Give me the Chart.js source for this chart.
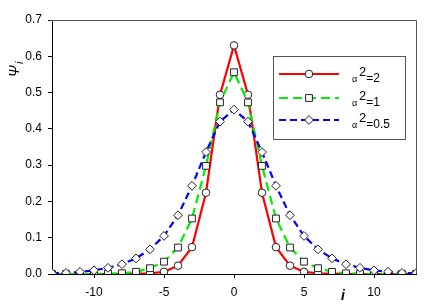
<!DOCTYPE html>
<html>
<head>
<meta charset="utf-8">
<script src="https://cdn.jsdelivr.net/npm/chart.js@4/dist/chart.umd.min.js"></script>
<style>
html,body{margin:0;padding:0;background:#fff;}
#wrap{width:436px;height:307px;position:relative;}
</style>
</head>
<body>
<div id="wrap"><canvas id="c" width="436" height="307"></canvas></div>
<script>
const sites = [-13,-12,-11,-10,-9,-8,-7,-6,-5,-4,-3,-2,-1,0,1,2,3,4,5,6,7,8,9,10,11,12,13];
const psiAlpha2 = [0,0,0,0,0,0,0.001,0.002,0.006,0.023,0.074,0.224,0.494,0.63,0.494,0.224,0.074,0.023,0.006,0.002,0.001,0,0,0,0,0,0];
const psiAlpha1 = [0,0,0,0,0.001,0.002,0.006,0.016,0.034,0.073,0.153,0.298,0.473,0.556,0.473,0.298,0.153,0.073,0.034,0.016,0.006,0.002,0.001,0,0,0,0];
const psiAlpha05 = [0.002,0.003,0.006,0.010,0.017,0.027,0.043,0.068,0.105,0.162,0.243,0.336,0.42,0.453,0.42,0.336,0.243,0.162,0.105,0.068,0.043,0.027,0.017,0.010,0.006,0.003,0.002];
const xTicks = [-10,-5,0,5,10];
const yTicks = [0,0.1,0.2,0.3,0.4,0.5,0.6,0.7];
const seriesLabels = ['2','1','0.5'];

function pts(arr){ return sites.map((x,i)=>({x:x,y:arr[i]})); }

const FONT = 'Liberation Sans, Arial, sans-serif';

const decor = {
  id:'decor',
  afterDraw(chart){
    const ctx = chart.ctx, a = chart.chartArea;
    ctx.save();
    ctx.strokeStyle = '#555';
    ctx.lineWidth = 1;
    ctx.beginPath();
    ctx.moveTo(a.left-2, a.top+0.5);
    ctx.lineTo(a.right+0.5, a.top+0.5);
    ctx.lineTo(a.right+0.5, a.bottom);
    ctx.stroke();
    ctx.fillStyle = '#000';
    ctx.font = 'italic bold 14px ' + FONT;
    ctx.textAlign = 'center';
    ctx.textBaseline = 'middle';
    ctx.fillText('i', 343, 296);
    ctx.translate(15, 70);
    ctx.rotate(-Math.PI/2);
    ctx.font = 'italic 14px ' + FONT;
    ctx.textAlign = 'left';
    ctx.textBaseline = 'alphabetic';
    ctx.fillText('\u03A8', -7, 4);
    ctx.font = 'italic 11px ' + FONT;
    ctx.fillText('i', 6, 8);
    ctx.restore();

    ctx.save();
    const bx=273.5, by=56.5, bw=132, bh=83;
    ctx.fillStyle='#fff';
    ctx.fillRect(bx,by,bw,bh);
    ctx.strokeStyle='#555';
    ctx.lineWidth=1;
    ctx.strokeRect(bx,by,bw,bh);
    const rows=[74,98,120];
    chart.data.datasets.forEach((ds,k)=>{
      const y=rows[k];
      ctx.save();
      ctx.strokeStyle=ds.borderColor;
      ctx.lineWidth=ds.borderWidth;
      ctx.setLineDash(ds.borderDash||[]);
      ctx.beginPath();
      ctx.moveTo(279,y);ctx.lineTo(339,y);
      ctx.stroke();
      ctx.restore();
      ctx.save();
      ctx.fillStyle='#fff';
      ctx.strokeStyle='#222';
      ctx.lineWidth=1;
      ctx.setLineDash([]);
      Chart.helpers.drawPoint(ctx,{pointStyle:ds.pointStyle,radius:ds.pointRadius,borderWidth:1,rotation:0},309,y);
      ctx.restore();
      ctx.fillStyle='#000';
      ctx.textBaseline='alphabetic';
      ctx.textAlign='left';
      ctx.font='9px '+FONT;
      ctx.fillText('\u03B1',352,y+8);
      ctx.font='13px '+FONT;
      ctx.fillText('2',359,y+2);
      const w=ctx.measureText('2').width;
      ctx.font='12px '+FONT;
      ctx.fillText('='+seriesLabels[k],359+w,y+8);
    });
    ctx.restore();
  }
};

new Chart(document.getElementById('c'),{
  type:'line',
  data:{
    datasets:[
      {label:'\u03B1\u00B2=2', data:pts(psiAlpha2), borderColor:'#ff0000', borderWidth:2.2, pointStyle:'circle', pointRadius:3.8, pointBackgroundColor:'#fff', pointBorderColor:'#222', pointBorderWidth:1, tension:0, order:3},
      {label:'\u03B1\u00B2=1', data:pts(psiAlpha1), borderColor:'#00ee00', borderWidth:2.2, borderDash:[9,5], pointStyle:'rect', pointRadius:4.8, pointBackgroundColor:'#fff', pointBorderColor:'#222', pointBorderWidth:1, tension:0, order:2},
      {label:'\u03B1\u00B2=0.5', data:pts(psiAlpha05), borderColor:'#0000ff', borderWidth:2.2, borderDash:[7,4], pointStyle:'rectRot', pointRadius:4.4, pointBackgroundColor:'#fff', pointBorderColor:'#222', pointBorderWidth:1, tension:0, order:1}
    ]
  },
  options:{
    animation:false,
    responsive:false,
    devicePixelRatio:1,
    layout:{padding:{left:0,top:20,right:20,bottom:0}},
    plugins:{legend:{display:false},tooltip:{enabled:false}},
    scales:{
      x:{
        type:'linear', min:-13, max:13,
        afterBuildTicks(s){ s.ticks = xTicks.map(v=>({value:v})); },
        afterFit(s){ s.height = 33; },
        grid:{drawOnChartArea:false, drawTicks:true, tickLength:4, color:'#000'},
        border:{display:true, color:'#000', width:1},
        ticks:{font:{family:FONT,size:12}, color:'#000', padding:7, maxRotation:0}
      },
      y:{
        min:0, max:0.7,
        afterBuildTicks(s){ s.ticks = yTicks.map(v=>({value:v})); },
        afterFit(s){ s.width = 52; },
        grid:{drawOnChartArea:false, drawTicks:true, tickLength:4, color:'#000'},
        border:{display:true, color:'#000', width:1},
        ticks:{font:{family:FONT,size:12}, color:'#000', padding:6, callback:(v)=>Number(v).toFixed(1)}
      }
    }
  },
  plugins:[{
    id:'bg',
    beforeDraw(chart){ chart.ctx.save(); chart.ctx.fillStyle='#fff'; chart.ctx.fillRect(0,0,chart.width,chart.height); chart.ctx.restore(); }
  }, decor]
});
</script>
</body>
</html>
